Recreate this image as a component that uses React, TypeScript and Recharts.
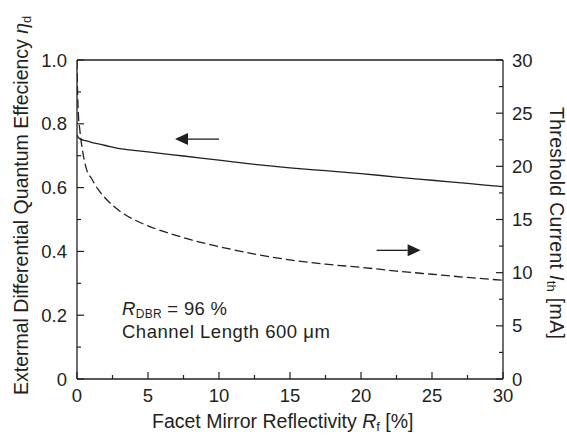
import { LineChart, Line, XAxis, YAxis, ReferenceLine } from 'recharts'

// facet reflectivity R_f [%] vs external differential quantum efficiency
const effR = [0, 0.1, 0.25, 0.6, 1, 1.5, 2, 3, 4, 5, 7.5, 10, 12.5, 15, 17.5, 20, 22.5, 25, 27.5, 30]
const effEta = [0.766, 0.757, 0.752, 0.747, 0.742, 0.737, 0.732, 0.722, 0.717, 0.712, 0.699, 0.686, 0.673, 0.662, 0.653, 0.644, 0.633, 0.623, 0.613, 0.603]

// facet reflectivity R_f [%] vs threshold current [mA]
const ithR = [0, 0.03, 0.09, 0.2, 0.4, 0.7, 1, 1.5, 2, 3, 4, 5, 6.5, 8, 10, 12.5, 15, 17.5, 20, 22.5, 25, 27.5, 30]
const ithMA = [30, 27.5, 25.1, 23.4, 21.4, 19.6, 18.9, 17.8, 17.0, 15.8, 15.0, 14.4, 13.7, 13.1, 12.45, 11.75, 11.2, 10.8, 10.5, 10.15, 9.85, 9.55, 9.28]

const xTicks = [0, 2.5, 5, 7.5, 10, 12.5, 15, 17.5, 20, 22.5, 25, 27.5, 30]
const leftTicks = [0, 0.1, 0.2, 0.3, 0.4, 0.5, 0.6, 0.7, 0.8, 0.9, 1.0]
const rightTicks = [0, 2.5, 5, 7.5, 10, 12.5, 15, 17.5, 20, 22.5, 25, 27.5, 30]

const effData = effR.map((r, i) => ({ r, eta: effEta[i] }))
const ithData = ithR.map((r, i) => ({ r, ith: ithMA[i] }))

const INK = '#231f20'
const FONT = '"Liberation Sans", Arial, Helvetica, sans-serif'
const MAJOR = 7
const MINOR = 4

const isMajor5 = (v: number) => Math.abs(v / 5 - Math.round(v / 5)) < 1e-6
const isMajorEta = (v: number) => Math.abs(v * 5 - Math.round(v * 5)) < 1e-6

function BottomTick(props: any) {
  const { x, y, payload } = props
  const v = payload.value
  const major = isMajor5(v)
  return (
    <g>
      <line x1={x} y1={y} x2={x} y2={y - (major ? MAJOR : MINOR)} stroke={INK} strokeWidth={1.2} />
      {major && (
        <text x={x} y={y + 23} textAnchor="middle" fill={INK} fontSize={18.5} fontFamily={FONT}>
          {v}
        </text>
      )}
    </g>
  )
}

function TopTick(props: any) {
  const { x, y, payload } = props
  const major = isMajor5(payload.value)
  return <line x1={x} y1={y} x2={x} y2={y + (major ? MAJOR : MINOR)} stroke={INK} strokeWidth={1.2} />
}

function LeftTick(props: any) {
  const { x, y, payload } = props
  const v = payload.value
  const major = isMajorEta(v)
  return (
    <g>
      <line x1={x} y1={y} x2={x + (major ? MAJOR : MINOR)} y2={y} stroke={INK} strokeWidth={1.2} />
      {major && (
        <text x={x - 10} y={y + 6.5} textAnchor="end" fill={INK} fontSize={18.5} fontFamily={FONT}>
          {v === 0 ? '0' : v.toFixed(1)}
        </text>
      )}
    </g>
  )
}

function RightTick(props: any) {
  const { x, y, payload } = props
  const v = payload.value
  const major = isMajor5(v)
  return (
    <g>
      <line x1={x} y1={y} x2={x - (major ? MAJOR : MINOR)} y2={y} stroke={INK} strokeWidth={1.2} />
      {major && (
        <text x={x + 9} y={y + 6.5} textAnchor="start" fill={INK} fontSize={18.5} fontFamily={FONT}>
          {v}
        </text>
      )}
    </g>
  )
}

// arrow drawn from (x1,y1) to tip at (x2,y2)
function Arrow(props: any) {
  const { x1, y1, x2, y2 } = props
  const dir = Math.sign(x2 - x1) || 1
  const head = 13
  const baseX = x2 - dir * head
  return (
    <g>
      <line x1={x1} y1={y1} x2={baseX} y2={y2} stroke={INK} strokeWidth={1.3} />
      <polygon points={`${x2},${y2} ${baseX},${y2 - 6} ${baseX},${y2 + 6}`} fill={INK} />
    </g>
  )
}

export default function App() {
  const axisLine = { stroke: INK, strokeWidth: 1.3 }
  return (
    <div style={{ position: 'absolute', left: 0, top: 0, width: 567, height: 435, background: '#fff' }}>
      <LineChart width={567} height={435} margin={{ top: 59, right: 63, bottom: 55, left: 76 }}>
        <XAxis
          dataKey="r"
          type="number"
          domain={[0, 30]}
          ticks={xTicks}
          interval={0}
          height={1}
          tickSize={0}
          tickMargin={0}
          tickLine={false}
          axisLine={axisLine}
          tick={<BottomTick />}
          allowDataOverflow
        />
        <XAxis
          xAxisId="top"
          orientation="top"
          type="number"
          domain={[0, 30]}
          ticks={xTicks}
          interval={0}
          height={1}
          tickSize={0}
          tickMargin={0}
          tickLine={false}
          axisLine={axisLine}
          tick={<TopTick />}
          allowDataOverflow
        />
        <YAxis
          yAxisId="left"
          type="number"
          domain={[0, 1]}
          ticks={leftTicks}
          interval={0}
          width={1}
          tickSize={0}
          tickMargin={0}
          tickLine={false}
          axisLine={axisLine}
          tick={<LeftTick />}
          allowDataOverflow
        />
        <YAxis
          yAxisId="right"
          orientation="right"
          type="number"
          domain={[0, 30]}
          ticks={rightTicks}
          interval={0}
          width={1}
          tickSize={0}
          tickMargin={0}
          tickLine={false}
          axisLine={axisLine}
          tick={<RightTick />}
          allowDataOverflow
        />
        <Line
          yAxisId="left"
          data={effData}
          dataKey="eta"
          type="monotone"
          stroke={INK}
          strokeWidth={1.3}
          dot={false}
          isAnimationActive={false}
        />
        <Line
          yAxisId="right"
          data={ithData}
          dataKey="ith"
          type="monotone"
          stroke={INK}
          strokeWidth={1.3}
          strokeDasharray="9 4"
          dot={false}
          isAnimationActive={false}
        />
        <ReferenceLine
          yAxisId="left"
          segment={[{ x: 10.0, y: 0.752 }, { x: 6.9, y: 0.752 }]}
          shape={<Arrow />}
        />
        <ReferenceLine
          yAxisId="right"
          segment={[{ x: 21.1, y: 12.1 }, { x: 24.2, y: 12.1 }]}
          shape={<Arrow />}
        />
      </LineChart>
      <svg
        width={567}
        height={435}
        style={{ position: 'absolute', left: 0, top: 0, pointerEvents: 'none' }}
        fontFamily={FONT}
        fill={INK}
      >
        <text x={28} y={395} fontSize={19.5} transform="rotate(-90 28 395)">
          Extermal Differential Quantum Effeciency{' '}
          <tspan fontStyle="italic">η</tspan>
          <tspan fontSize={13} dy={3}>d</tspan>
        </text>
        <text x={550} y={107} fontSize={19.5} letterSpacing={0.3} transform="rotate(90 550 107)">
          Threshold Current <tspan fontStyle="italic">I</tspan>
          <tspan fontSize={13} dy={3}>th</tspan>
          <tspan dy={-3}> [mA]</tspan>
        </text>
        <text x={152} y={428} fontSize={19.5}>
          Facet Mirror Reflectivity <tspan fontStyle="italic">R</tspan>
          <tspan fontSize={13} dy={3}>f</tspan>
          <tspan dy={-3}> [%]</tspan>
        </text>
        <text x={122} y={315} fontSize={18.5} letterSpacing={0.3}>
          <tspan fontStyle="italic">R</tspan>
          <tspan fontSize={12} dy={3}>DBR</tspan>
          <tspan dy={-3}> = 96 %</tspan>
        </text>
        <text x={122} y={338} fontSize={18.5} letterSpacing={0.5}>
          Channel Length 600 μm
        </text>
      </svg>
    </div>
  )
}
